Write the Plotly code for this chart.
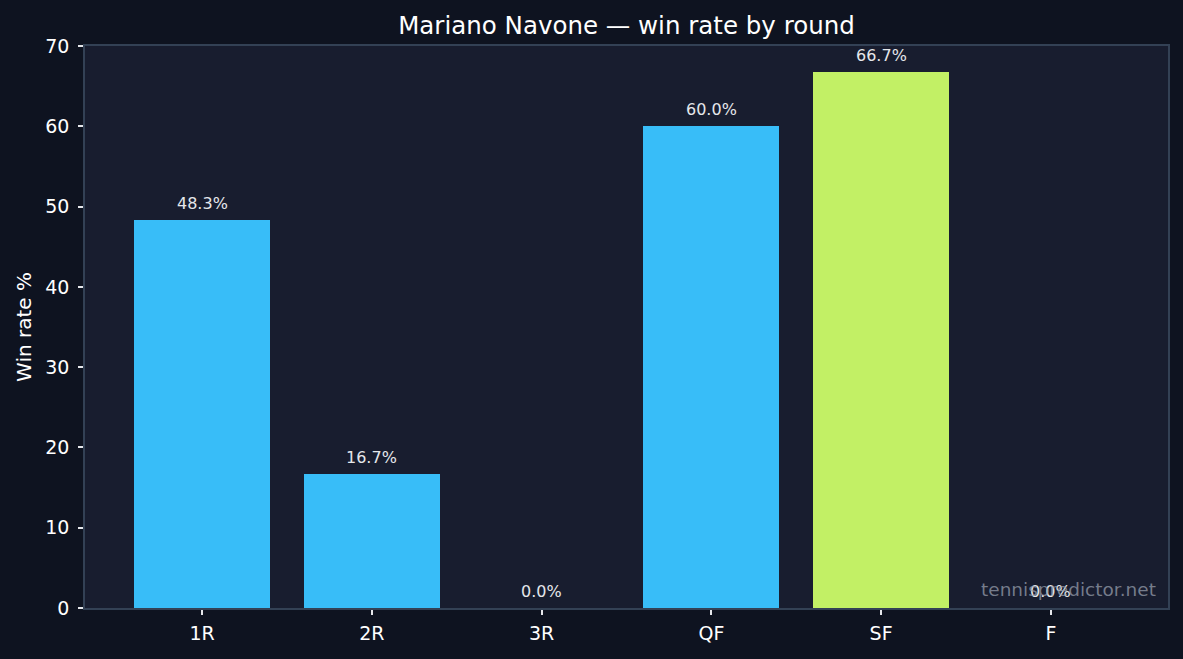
import plotly.graph_objects as go

rounds = ["1R", "2R", "3R", "QF", "SF", "F"]
win_rate = [48.3, 16.7, 0.0, 60.0, 66.7, 0.0]
labels = ["48.3%", "16.7%", "0.0%", "60.0%", "66.7%", "0.0%"]
colors = ["#38bdf8", "#38bdf8", "#38bdf8", "#38bdf8", "#c2f065", "#38bdf8"]

FONT = "DejaVu Sans"
xs = list(range(len(rounds)))

fig = go.Figure()
fig.add_trace(go.Bar(x=xs, y=win_rate, width=0.8, marker=dict(color=colors, line=dict(width=0)),
                     hoverinfo="skip"))

for x, y, t in zip(xs, win_rate, labels):
    fig.add_annotation(x=x, y=y, text=t, showarrow=False, yanchor="bottom", yshift=5,
                       font=dict(family=FONT, size=16, color="#e5e7eb"))

fig.add_annotation(xref="paper", yref="paper", x=0.991, y=0.01, xanchor="right", yanchor="bottom",
                   text="tennispredictor.net", showarrow=False,
                   font=dict(family=FONT, size=18.5, color="rgba(148,156,170,0.75)"))

fig.update_layout(
    width=1183, height=659,
    paper_bgcolor="#0e1320", plot_bgcolor="#181d2f",
    margin=dict(l=85, r=15, t=46, b=51),
    title=dict(text="Mariano Navone — win rate by round", x=626.5 / 1183, xanchor="center",
               y=1 - 25 / 659, yanchor="middle",
               font=dict(family=FONT, size=24.5, color="#ffffff")),
    showlegend=False, bargap=0,
    font=dict(family=FONT, color="#ffffff"),
)
fig.update_xaxes(range=[-0.69, 5.69], tickvals=xs, ticktext=rounds, showgrid=False, zeroline=False,
                 showline=True, linecolor="#334155", linewidth=1.5, mirror=True,
                 ticks="outside", ticklen=5, tickcolor="#e5e7eb", tickwidth=1.5, ticklabelstandoff=2,
                 tickfont=dict(family=FONT, size=19, color="#ffffff"))
fig.update_yaxes(range=[0, 70], dtick=10, showgrid=False, zeroline=False,
                 showline=True, linecolor="#334155", linewidth=1.5, mirror=True,
                 ticks="outside", ticklen=5, tickcolor="#e5e7eb", tickwidth=1.5, ticklabelstandoff=5,
                 tickfont=dict(family=FONT, size=19, color="#ffffff"),
                 title=dict(text="Win rate %", font=dict(family=FONT, size=20, color="#ffffff"), standoff=8))

fig.write_html("out.html")
